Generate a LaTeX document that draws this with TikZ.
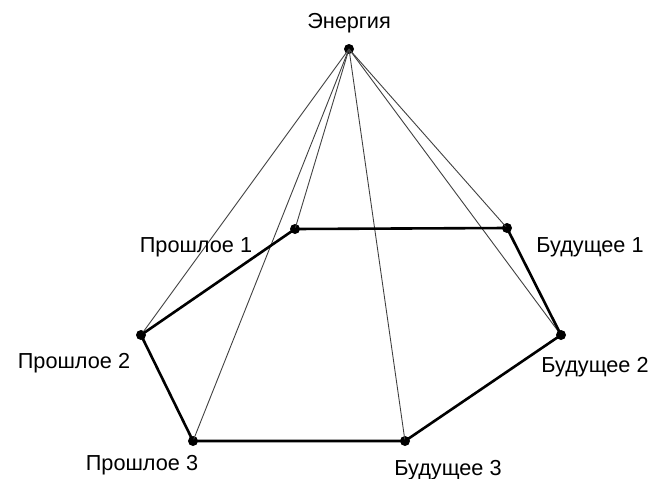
\documentclass[tikz,border=0pt]{standalone}
\usepackage{fontspec}
\setmainfont{Liberation Sans}
\begin{document}
\begin{tikzpicture}[x=1pt,y=-1pt,
  dot/.style={circle,fill=black,inner sep=0pt,minimum size=10pt},
  lbl/.style={inner sep=0pt,anchor=base,font=\fontsize{21.7}{26}\selectfont},
  thin line/.style={draw=black!75,line width=0.9pt},
  thick line/.style={draw=black,line width=2.6pt}]
\useasboundingbox (0,0) rectangle (651,479);
\node[dot] (E) at (349,49) {};
\node[dot] (P1) at (295,229) {};
\node[dot] (B1) at (507,228) {};
\node[dot] (P2) at (141,335) {};
\node[dot] (B2) at (561,335) {};
\node[dot] (P3) at (193,441) {};
\node[dot] (B3) at (405,441) {};
\foreach \t in {P1,B1,P2,B2,P3,B3} \draw[thin line] (E.center) -- (\t.center);
\draw[thick line] (P1.center) -- (B1.center) -- (B2.center) -- (B3.center) -- (P3.center) -- (P2.center) -- cycle;
\node[lbl] (lE) at (349,28) {Энергия};
\node[lbl] (lP1) at (196,252) {Прошлое 1};
\node[lbl] (lB1) at (590,252) {Будущее 1};
\node[lbl] (lP2) at (74,368) {Прошлое 2};
\node[lbl] (lB2) at (595,372) {Будущее 2};
\node[lbl] (lP3) at (142,470) {Прошлое 3};
\node[lbl] (lB3) at (448,475) {Будущее 3};
\end{tikzpicture}
\end{document}
